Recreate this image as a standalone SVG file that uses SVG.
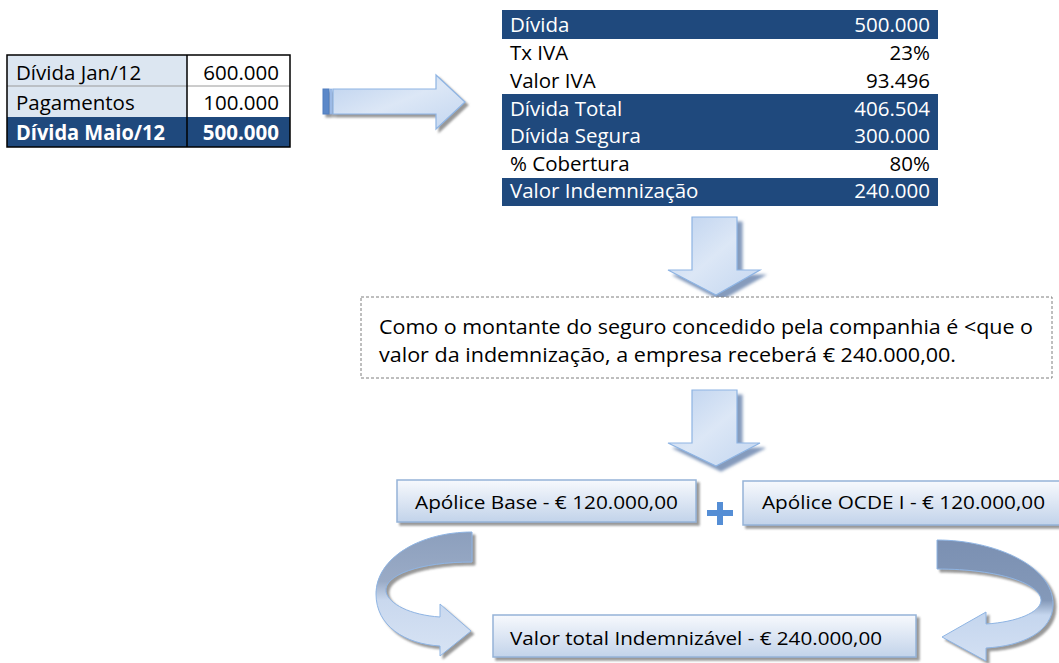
<svg xmlns="http://www.w3.org/2000/svg" width="1059" height="663" viewBox="0 0 1059 663">
<defs>
<style>
.t{font-family:"Open Sans","Liberation Sans",sans-serif;font-size:19px;fill:#000}
.tb{font-size:20.5px}
.w{fill:#fff}
.b{font-weight:bold}
.r{text-anchor:end}
.dark{fill:#1f497d}
.arrow{fill:url(#gArrow);stroke:#8eb4e3;stroke-width:1.2}
.box{fill:url(#gBox);stroke:#95b3d7;stroke-width:1.5}
</style>
<linearGradient id="gArrow" x1="0" y1="0" x2="1" y2="1">
<stop offset="0" stop-color="#bcd1ee"/>
<stop offset="0.5" stop-color="#dce7f6"/>
<stop offset="1" stop-color="#c3d6f0"/>
</linearGradient>
<linearGradient id="gBox" x1="0" y1="0" x2="0" y2="1">
<stop offset="0" stop-color="#f7f9fd"/>
<stop offset="1" stop-color="#c2d3ea"/>
</linearGradient>
<linearGradient id="gCurveL" x1="0" y1="0" x2="0" y2="1">
<stop offset="0" stop-color="#8c9fbd"/>
<stop offset="0.4" stop-color="#9aabc6"/>
<stop offset="0.55" stop-color="#c9d8ee"/>
<stop offset="1" stop-color="#d7e3f4"/>
</linearGradient>
<linearGradient id="gCurveR" x1="0" y1="0" x2="0" y2="1">
<stop offset="0" stop-color="#7b90b2"/>
<stop offset="0.5" stop-color="#8499b9"/>
<stop offset="0.62" stop-color="#c5d6ee"/>
<stop offset="1" stop-color="#d3e0f3"/>
</linearGradient>
<filter id="sh" x="-10%" y="-10%" width="130%" height="140%">
<feDropShadow dx="3" dy="3" stdDeviation="1.2" flood-color="#7f7f7f" flood-opacity="0.8"/>
</filter>
<filter id="shA" x="-20%" y="-20%" width="150%" height="150%">
<feDropShadow dx="5" dy="5" stdDeviation="1.5" flood-color="#7890b5" flood-opacity="0.9"/>
</filter>
</defs>

<g id="table-left">
<rect x="7" y="55" width="180" height="62" fill="#dce6f1"/>
<rect x="187" y="55" width="103" height="62" fill="#fff"/>
<rect x="7" y="117" width="283" height="30" class="dark"/>
<line x1="7" y1="86" x2="290" y2="86" stroke="#9a9a9a" stroke-width="1"/>
<line x1="187" y1="55" x2="187" y2="147" stroke="#000" stroke-width="1.5"/>
<rect x="7" y="55" width="283" height="92" fill="none" stroke="#000" stroke-width="1.5"/>
<text class="t tb" x="16" y="80">Dívida Jan/12</text>
<text class="t tb r" x="279" y="80">600.000</text>
<text class="t tb" x="16" y="110">Pagamentos</text>
<text class="t tb r" x="279" y="110">100.000</text>
<text class="t tb w b" x="16" y="140" textLength="149" lengthAdjust="spacingAndGlyphs">Dívida Maio/12</text>
<text class="t tb w b r" x="279" y="140">500.000</text>
</g>

<g id="table-right">
<rect x="502" y="10" width="436" height="29" class="dark"/>
<rect x="502" y="94" width="436" height="56" class="dark"/>
<rect x="502" y="178" width="436" height="28" class="dark"/>
<text class="t tb w" x="510" y="32">Dívida</text>
<text class="t tb w r" x="930" y="32">500.000</text>
<text class="t tb" x="510" y="60">Tx IVA</text>
<text class="t tb r" x="930" y="60">23%</text>
<text class="t tb" x="510" y="88">Valor IVA</text>
<text class="t tb r" x="930" y="88">93.496</text>
<text class="t tb w" x="510" y="116">Dívida Total</text>
<text class="t tb w r" x="930" y="116">406.504</text>
<text class="t tb w" x="510" y="143">Dívida Segura</text>
<text class="t tb w r" x="930" y="143">300.000</text>
<text class="t tb" x="510" y="171">% Cobertura</text>
<text class="t tb r" x="930" y="171">80%</text>
<text class="t tb w" x="510" y="198">Valor Indemnização</text>
<text class="t tb w r" x="930" y="198">240.000</text>
</g>

<g id="connectors">
<g id="arrow-right" filter="url(#sh)">
<rect x="323" y="89" width="6" height="25" fill="#5b88c8" stroke="#4f7fbf" stroke-width="1"/>
<rect x="330" y="89" width="2" height="25" fill="#a9c4ea" stroke="#7fa6dc" stroke-width="0.6"/>
<path class="arrow" d="M333 89 L436 89 L436 75 L465 102 L436 129 L436 114 L333 114 Z"/>
</g>
<path id="arrow-down-1" class="arrow" filter="url(#shA)" d="M692 217 L737 217 L737 270 L760 270 L716 295 L668 270 L692 270 Z"/>
<path id="arrow-down-2" class="arrow" filter="url(#shA)" d="M692 390 L737 390 L737 443 L760 443 L716 466 L668 443 L692 443 Z"/>
<path id="curve-left" filter="url(#sh)" fill="url(#gCurveL)" stroke="#8eb4e3" stroke-width="1" d="M472 532 C420 532 376 558 376 594 C376 626 405 644 440 646 L440 656 L471 631 L440 604 L440 617 C410 615 389 604 386 592 C383 575 420 562 472 562 Z"/>
<path id="curve-right" filter="url(#sh)" fill="url(#gCurveR)" stroke="#8eb4e3" stroke-width="1" d="M937 540 C995 540 1053 566 1053 604 C1053 632 1022 646 986 648 L986 661 L942 637 L986 612 L986 624 C1018 622 1040 612 1041 601 C1042 584 1000 569 937 569 Z"/>
</g>

<g id="note">
<rect x="361" y="297" width="691" height="81" fill="#fff" stroke="#7f7f7f" stroke-width="1" stroke-dasharray="3 2"/>
<text class="t tb" x="379" y="334" textLength="654" lengthAdjust="spacingAndGlyphs">Como o montante do seguro concedido pela companhia é &lt;que o</text>
<text class="t tb" x="379" y="362" textLength="577" lengthAdjust="spacingAndGlyphs">valor da indemnização, a empresa receberá € 240.000,00.</text>
</g>

<g id="apolice-base">
<rect class="box" filter="url(#sh)" x="397" y="480" width="299" height="42"/>
<text class="t" x="415" y="509" textLength="263" lengthAdjust="spacingAndGlyphs">Apólice Base - € 120.000,00</text>
</g>

<g id="plus">
<rect x="707" y="510" width="26" height="6" fill="#558ed5"/>
<rect x="717" y="502" width="6" height="23" fill="#558ed5"/>
</g>

<g id="apolice-ocde">
<rect class="box" filter="url(#sh)" x="743" y="481" width="318" height="44"/>
<text class="t" x="762" y="509" textLength="283" lengthAdjust="spacingAndGlyphs">Apólice OCDE I - € 120.000,00</text>
</g>

<g id="total">
<rect class="box" filter="url(#sh)" x="493" y="615" width="423" height="42"/>
<text class="t" x="510" y="645" textLength="372" lengthAdjust="spacingAndGlyphs">Valor total Indemnizável - € 240.000,00</text>
</g>
</svg>
